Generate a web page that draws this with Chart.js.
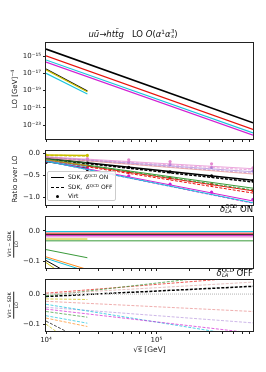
<!DOCTYPE html>
<html>
<head>
<meta charset="utf-8">
<script src="https://cdn.jsdelivr.net/npm/chart.js@4.4.0/dist/chart.umd.min.js"></script>
<style>
  html, body { margin: 0; padding: 0; background: #fff; }
  body { width: 266px; height: 372px; position: relative; overflow: hidden;
         font-family: "DejaVu Sans", sans-serif; color: #111; }
  canvas { position: absolute; left: 0; top: 0; }
  .txt { position: absolute; white-space: nowrap; line-height: 1; }
  .st { display: inline-flex; flex-direction: column; vertical-align: middle;
        font-size: 0.62em; line-height: 0.95; margin-left: 0.05em; }
  .rot { transform: translate(-50%, -50%) rotate(-90deg); }
  sup { font-size: 0.68em; vertical-align: 0.45em; line-height: 0; }
  #legend { background: rgba(255,255,255,0.85); border: 1px solid #ccc; border-radius: 2px;
            font-size: 6px; box-sizing: border-box; }
  .ls { position: absolute; left: 3px; width: 13px; height: 0; }
  .lt { position: absolute; left: 20px; }
  .frac { font-size: 4.8px; text-align: center; }
  .frac .num { border-bottom: 0.6px solid #222; padding: 0 1px 0.5px 1px; }
  .frac .den { padding-top: 0.5px; }
</style>
</head>
<body>
<canvas id="c1" width="266" height="372"></canvas>
<canvas id="c2" width="266" height="372"></canvas>
<canvas id="c3" width="266" height="372"></canvas>
<canvas id="c4" width="266" height="372"></canvas>

<div class="txt" style="left:0;width:266px;top:29px;text-align:center;font-size:8.5px;">
  <i>uū</i>→<i>htt̄g</i>&nbsp;&nbsp;&nbsp;LO <i>O</i>(<i>α</i><sup>1</sup><i>α</i><span class="st"><span>3</span><span><i>s</i></span></span>)
</div>

<div class="txt rot" style="left:15px;top:89px;font-size:7px;">LO [GeV]<sup>−4</sup></div>
<div class="txt rot" style="left:15px;top:179px;font-size:7px;">Ratio over LO</div>
<div class="txt rot frac" style="left:14px;top:244px;"><div class="num">Virt − SDK</div><div class="den">LO</div></div>
<div class="txt rot frac" style="left:14px;top:305px;"><div class="num">Virt − SDK</div><div class="den">LO</div></div>

<div class="txt" style="right:13px;top:204px;font-size:8.5px;"><i>δ</i><span class="st"><span>QCD</span><span><i>LA</i></span></span> ON</div>
<div class="txt" style="right:13px;top:268px;font-size:8.5px;"><i>δ</i><span class="st"><span>QCD</span><span><i>LA</i></span></span> OFF</div>

<div id="legend" class="txt" style="left:47px;top:171px;width:69px;height:30px;">
  <div class="ls" style="top:5px;border-top:1.5px solid #000;"></div>
  <div class="lt" style="top:2px;">SDK, <i>δ</i><sup>QCD</sup> ON</div>
  <div class="ls" style="top:14.5px;border-top:1.5px dashed #000;"></div>
  <div class="lt" style="top:11.5px;">SDK,&nbsp; <i>δ</i><sup>QCD</sup> OFF</div>
  <div style="position:absolute;left:8px;top:22.5px;width:3px;height:3px;border-radius:50%;background:#000;"></div>
  <div class="lt" style="top:21px;">Virt</div>
</div>

<script>
// ---- x values ----
const xMin = 1e4, xMax = 7.5e5;
const xEnds = [1e4, 7.5e5];
const xShort = [1e4, 2.37e4];
const xPts = [1e4, 2.37e4, 5.62e4, 1.33e5, 3.16e5, 7.5e5];
const xTickVals = [1e4, 2e4, 3e4, 4e4, 5e4, 6e4, 7e4, 8e4, 9e4, 1e5, 2e5, 3e5, 4e5, 5e5, 6e5, 7e5];
const xTickLabels = ['10⁴', '', '', '', '', '', '', '', '', '10⁵', '', '', '', '', '', ''];

// ---- panel 1: LO [GeV]^-4 ----
const loTickVals = [1e-23, 1e-21, 1e-19, 1e-17, 1e-15];
const loTickLabels = ['10⁻²³', '10⁻²¹', '10⁻¹⁹', '10⁻¹⁷', '10⁻¹⁵'];
const loBlack = [6.3e-15, 1.9e-23];
const loRed = [1.07e-15, 3.2e-24];
const loCyan = [3.5e-16, 1.3e-24];
const loMagenta = [2.0e-16, 7.1e-25];
const loBlackS = [3.2e-17, 9.1e-20];
const loYellowS = [2.6e-17, 7.4e-20];
const loCyanS = [1.0e-17, 4.0e-20];

// ---- panel 2: ratio over LO ----
const ratioTickVals = [-1.0, -0.5, 0.0];
const rPinkOn = [-0.08, -0.35], rPinkOff = [-0.09, -0.38];
const rVioletOn = [-0.09, -0.42], rVioletOff = [-0.10, -0.45];
const rSalmonOn = [-0.10, -0.47];
const rBlackOn = [-0.12, -0.61], rBlackOff = [-0.13, -0.65];
const rGreenOn = [-0.14, -0.79], rGreenOff = [-0.14, -0.83];
const rRedOn = [-0.15, -0.85], rRedOff = [-0.16, -0.90];
const rMagentaOn = [-0.17, -1.08], rMagentaOff = [-0.18, -1.13];
const rCyanOn = [-0.18, -1.12];
const rYellowSOn = [-0.04, -0.05], rYellowSOff = [-0.05, -0.06];
const rBlackSOn = [-0.19, -0.34];
const rGreenSOn = [-0.12, -0.22];
const rOrangeSOn = [-0.15, -0.28];
const rCyanSOn = [-0.17, -0.31];
const rPinkVirt = [-0.08, -0.12, -0.15, -0.19, -0.24, -0.33];
const rVioletVirt = [-0.09, -0.14, -0.20, -0.26, -0.32, -0.40];
const rBlackVirt = [-0.13, -0.22, -0.32, -0.42, -0.51, -0.62];
const rRedVirt = [-0.16, -0.29, -0.43, -0.56, -0.70, -0.84];
const rMagentaVirt = [-0.18, -0.34, -0.51, -0.70, -0.88, -1.04];
const rBlackSVirt = [-0.21, -0.37];
const rYellowSVirt = [-0.04, -0.05];

// ---- panel 3: (Virt-SDK)/LO, delta ON ----
const diffTickVals = [-0.1, 0.0];
const onCyan = [-0.002, -0.002];
const onRose = [-0.006, -0.006];
const onRed = [-0.010, -0.010];
const onBlack = [-0.013, -0.013];
const onMagenta = [-0.016, -0.016];
const onPink = [-0.020, -0.020];
const onGreen = [-0.033, -0.033];
const onYellowS = [-0.027, -0.027];
const onGreenS = [-0.062, -0.089];
const onOrangeS = [-0.086, -0.128];
const onCyanS = [-0.091, -0.135];
const onBlackS = [-0.098, -0.175];
const onYellow2S = [-0.105, -0.200];

// ---- panel 4: (Virt-SDK)/LO, delta OFF ----
const offZero = [0, 0];
const offBlack = [-0.008, 0.026];
const offRed = [0.003, 0.058];
const offGreen = [-0.006, 0.074];
const offRose = [0.000, 0.040];
const offSalmon = [-0.024, -0.058];
const offViolet = [-0.044, -0.096];
const offCyan = [-0.034, -0.145];
const offMagenta = [-0.050, -0.130];
const offYellowS = [-0.016, -0.018];
const offGreenS = [-0.058, -0.077];
const offCyanS = [-0.072, -0.097];
const offOrangeS = [-0.080, -0.108];
const offBlackS = [-0.090, -0.160];
const offYellow2S = [-0.100, -0.200];

// colours
const cBlack = '#000000', cRed = '#e8120c', cCyan = '#19c3dc', cMagenta = '#d21fd2',
      cGreen = '#3a9a3a', cOrange = '#ff8a1c', cYellow = '#c9c000', cPink = '#e58ad0',
      cViolet = '#a67fd6', cSalmon = '#e88a8a', cRose = '#d9a3a3';

Chart.defaults.font.family = '"DejaVu Sans", sans-serif';
Chart.defaults.font.size = 7;
Chart.defaults.color = '#222';

function pts(xs, ys) { return xs.map((x, i) => ({ x: x, y: ys[i] })); }
function solid(xs, ys, color, w) {
  return { data: pts(xs, ys), borderColor: color, backgroundColor: color, borderWidth: w || 1, pointRadius: 0 };
}
function dashed(xs, ys, color, w) {
  return { data: pts(xs, ys), borderColor: color, backgroundColor: color, borderWidth: w || 1,
           borderDash: [3, 1.5], pointRadius: 0 };
}
function dots(xs, ys, color) {
  return { data: pts(xs, ys), showLine: false, pointRadius: 1.6, pointBorderWidth: 0,
           pointBackgroundColor: color, borderColor: color };
}
function fmtLin(v) { return (v < 0 ? '−' : '') + Math.abs(v).toFixed(1); }

const boxPlugin = {
  id: 'box',
  afterDraw(chart) {
    const a = chart.chartArea, ctx = chart.ctx;
    ctx.save();
    ctx.strokeStyle = '#222';
    ctx.lineWidth = 1;
    ctx.strokeRect(a.left - 0.5, a.top - 0.5, a.right - a.left + 1, a.bottom - a.top + 1);
    ctx.restore();
  }
};

function makeChart(id, datasets, top, bottom, yAxis, lastPanel) {
  const xh = lastPanel ? 24 : 4;
  new Chart(document.getElementById(id), {
    type: 'line',
    data: { datasets: datasets },
    plugins: [boxPlugin],
    options: {
      responsive: false, animation: false, devicePixelRatio: 1, events: [],
      layout: { padding: { top: top, bottom: 372 - bottom - xh, left: 0, right: 13 } },
      plugins: { legend: { display: false }, tooltip: { enabled: false } },
      scales: {
        x: {
          type: 'logarithmic', min: xMin, max: xMax,
          afterBuildTicks: s => { s.ticks = xTickVals.map(v => ({ value: v })); },
          afterFit: s => { s.height = xh; },
          grid: { drawOnChartArea: false, drawTicks: true, tickLength: 3, color: '#222', tickColor: '#222' },
          border: { display: false },
          ticks: { display: lastPanel, autoSkip: false, maxRotation: 0, padding: 2,
                   callback: v => xTickLabels[xTickVals.indexOf(v)] || '' },
          title: { display: lastPanel, text: '√s̅ [GeV]', padding: 0, font: { size: 7.5 } }
        },
        y: Object.assign({
          afterFit: s => { s.width = 46; },
          grid: { drawOnChartArea: false, drawTicks: true, tickLength: 3, color: '#222', tickColor: '#222' },
          border: { display: false }
        }, yAxis)
      }
    }
  });
}

// panel 1
makeChart('c1', [
  solid(xShort, loCyanS, cCyan, 1.1),
  solid(xShort, loYellowS, cYellow, 1.3),
  solid(xShort, loBlackS, cBlack, 1.1),
  solid(xEnds, loMagenta, cMagenta, 1.2),
  solid(xEnds, loCyan, cCyan, 1.2),
  solid(xEnds, loRed, cRed, 1.2),
  solid(xEnds, loBlack, cBlack, 1.6)
], 43, 139, {
  type: 'logarithmic', min: 2.5e-25, max: 3.2e-14,
  afterBuildTicks: s => { s.ticks = loTickVals.map(v => ({ value: v })); },
  ticks: { autoSkip: false, padding: 2, callback: v => loTickLabels[loTickVals.indexOf(v)] || '' }
}, false);

// panel 2
makeChart('c2', [
  solid(xEnds, rSalmonOn, cSalmon + 'b0'),
  solid(xEnds, rVioletOn, cViolet + 'b0'), dashed(xEnds, rVioletOff, cViolet + 'b0'),
  solid(xEnds, rPinkOn, cPink + 'c0'), dashed(xEnds, rPinkOff, cPink + 'c0'),
  solid(xShort, rGreenSOn, cGreen + 'b0'), solid(xShort, rOrangeSOn, cOrange + 'b0'),
  solid(xShort, rCyanSOn, cCyan + 'b0'),
  solid(xShort, rYellowSOn, cYellow, 1.5), dashed(xShort, rYellowSOff, cYellow, 1.5),
  solid(xEnds, rCyanOn, cCyan),
  solid(xEnds, rMagentaOn, cMagenta), dashed(xEnds, rMagentaOff, cMagenta),
  solid(xEnds, rGreenOn, cGreen), dashed(xEnds, rGreenOff, cGreen),
  solid(xEnds, rRedOn, cRed), dashed(xEnds, rRedOff, cRed),
  solid(xShort, rBlackSOn, cBlack),
  solid(xEnds, rBlackOn, cBlack, 1.5), dashed(xEnds, rBlackOff, cBlack, 1.5),
  dots(xPts, rPinkVirt, cPink), dots(xPts, rVioletVirt, cViolet),
  dots(xPts, rRedVirt, cRed), dots(xPts, rMagentaVirt, cMagenta),
  dots(xPts, rBlackVirt, cBlack), dots(xShort, rBlackSVirt, cBlack),
  dots(xShort, rYellowSVirt, cYellow)
], 151, 205, {
  type: 'linear', min: -1.17, max: 0.05,
  afterBuildTicks: s => { s.ticks = ratioTickVals.map(v => ({ value: v })); },
  ticks: { autoSkip: false, padding: 3, callback: fmtLin }
}, false);

// panel 3
makeChart('c3', [
  solid(xEnds, onGreen, cGreen),
  solid(xEnds, onPink, cPink),
  solid(xEnds, onMagenta, cMagenta),
  solid(xEnds, onBlack, cBlack),
  solid(xEnds, onRed, cRed),
  solid(xEnds, onRose, cRose),
  solid(xEnds, onCyan, cCyan),
  solid(xShort, onYellowS, cYellow),
  solid(xShort, onGreenS, cGreen),
  solid(xShort, onOrangeS, cOrange),
  solid(xShort, onCyanS, cCyan),
  solid(xShort, onBlackS, cBlack),
  solid(xShort, onYellow2S, cYellow)
], 217, 268, {
  type: 'linear', min: -0.123, max: 0.046,
  afterBuildTicks: s => { s.ticks = diffTickVals.map(v => ({ value: v })); },
  ticks: { autoSkip: false, padding: 3, callback: fmtLin }
}, false);

// panel 4
makeChart('c4', [
  { data: pts(xEnds, offZero), borderColor: '#cccccc', borderWidth: 1.5, borderDash: [1, 1], pointRadius: 0 },
  dashed(xEnds, offMagenta, cMagenta + 'b0'),
  dashed(xEnds, offCyan, cCyan + 'c0'),
  dashed(xEnds, offViolet, cViolet + '90'),
  dashed(xEnds, offSalmon, cSalmon + 'b0'),
  dashed(xEnds, offRose, cRose + 'b0'),
  dashed(xEnds, offGreen, cGreen + 'c0'),
  dashed(xEnds, offRed, cRed + 'b0'),
  dashed(xShort, offYellowS, cYellow + 'b0'),
  dashed(xShort, offGreenS, cGreen + 'b0'),
  dashed(xShort, offCyanS, cCyan + 'b0'),
  dashed(xShort, offOrangeS, cOrange + 'b0'),
  dashed(xShort, offBlackS, cBlack + 'b0'),
  dashed(xShort, offYellow2S, cYellow + 'b0'),
  dashed(xEnds, offBlack, cBlack, 1.5)
], 280, 331, {
  type: 'linear', min: -0.123, max: 0.047,
  afterBuildTicks: s => { s.ticks = diffTickVals.map(v => ({ value: v })); },
  ticks: { autoSkip: false, padding: 3, callback: fmtLin }
}, true);
</script>
</body>
</html>
